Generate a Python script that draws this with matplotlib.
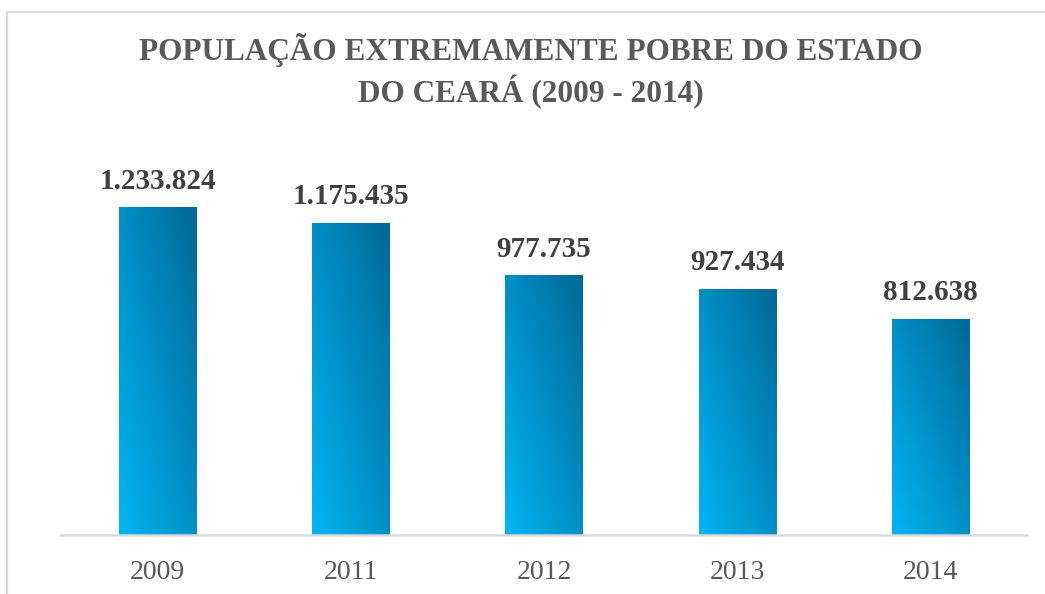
import numpy as np
import matplotlib
matplotlib.use("Agg")
import matplotlib.pyplot as plt
from matplotlib.patches import Rectangle

years = ["2009", "2011", "2012", "2013", "2014"]
values = [1233824, 1175435, 977735, 927434, 812638]
labels = ["1.233.824", "1.175.435", "977.735", "927.434", "812.638"]
title = "POPULAÇÃO EXTREMAMENTE POBRE DO ESTADO\nDO CEARÁ (2009 - 2014)"

plt.rcParams['font.family'] = ['Liberation Serif', 'DejaVu Serif']

W, H = 1045, 594
fig = plt.figure(figsize=(W / 100, H / 100), dpi=100)
fig.patch.set_facecolor('white')

# chart border (extends beyond right/bottom edge)
fig.patches.append(Rectangle((7 / W, -0.1), 1.2, 1 - 12 / H + 0.1,
                             transform=fig.transFigure, fill=False,
                             edgecolor='#D9D9D9', linewidth=1.5, zorder=0))

ax = fig.add_axes([61 / W, (H - 535) / H, (1027 - 61) / W, (535 - 150) / H])
ax.set_facecolor('none')

c0 = np.array([0, 182, 245]) / 255.0
c1 = np.array([0, 104, 150]) / 255.0
n = 200
u = np.linspace(0, 1, n)[None, :]
v = np.linspace(1, 0, n)[:, None]
t = (u + v) / 2.0
grad = c0[None, None, :] * (1 - t[..., None]) + c1[None, None, :] * t[..., None]

bw = 0.40
x = np.arange(len(years))
bars = ax.bar(x, values, width=bw, color='none', edgecolor='none')
for b in bars:
    x0, y0 = b.get_x(), b.get_y()
    ax.imshow(grad, extent=(x0, x0 + b.get_width(), y0, y0 + b.get_height()),
              aspect='auto', interpolation='bilinear', zorder=2)

for xi, val, lab in zip(x, values, labels):
    ax.annotate(lab, (xi, val), xytext=(0, 9.5), textcoords='offset points',
                ha='center', va='bottom', fontsize=21, fontweight='bold',
                color='#404040')

ax.set_xlim(-0.5, len(years) - 0.5)
ax.set_ylim(0, 1452666)
ax.set_xticks(x)
ax.set_xticklabels(years, fontsize=20, color='#595959')
ax.tick_params(axis='x', length=0, pad=18)
ax.set_yticks([])
for s in ['top', 'right', 'left']:
    ax.spines[s].set_visible(False)
ax.spines['bottom'].set_color('#D9D9D9')
ax.spines['bottom'].set_linewidth(1.8)
ax.spines['bottom'].set_zorder(3)

fig.text(531 / W, 1 - 33 / H, title, ha='center', va='top', fontsize=22.5,
         fontweight='bold', color='#595959', linespacing=1.28)

fig.savefig('out.png', dpi=100)
